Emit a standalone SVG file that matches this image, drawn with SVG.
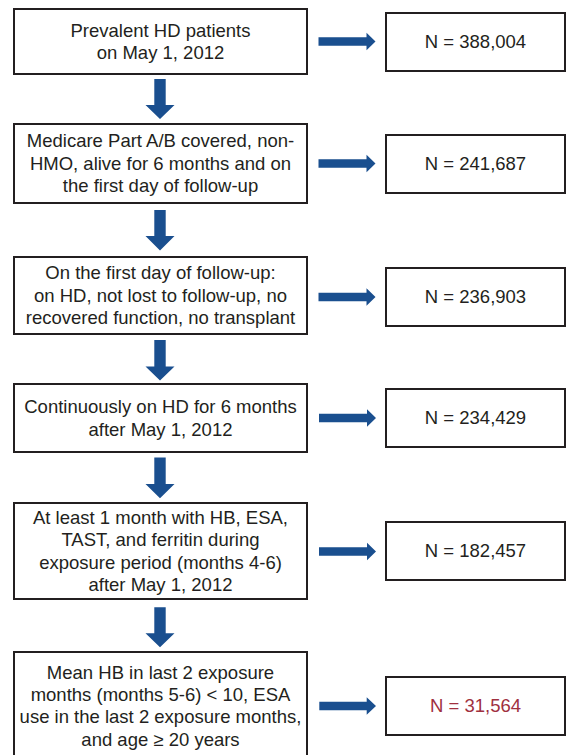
<svg xmlns="http://www.w3.org/2000/svg" width="566" height="755" viewBox="0 0 566 755">
<style>
  .box{fill:#ffffff;stroke:#231f20;stroke-width:2}
  .t{font-family:"Liberation Sans",Arial,Helvetica,sans-serif;font-size:18.5px;fill:#231f20;text-anchor:middle}
  .red{fill:#a0303f}
  .arr{fill:#1a4f8f}
</style>
<rect width="566" height="755" fill="#ffffff"/>
<g id="connectors">
  <polygon class="arr" points="154.3,79 165.7,79 165.7,105 174.5,105 160,119 145.5,105 154.3,105"/>
  <polygon class="arr" points="154.3,210 165.7,210 165.7,236 174.5,236 160,250.5 145.5,236 154.3,236"/>
  <polygon class="arr" points="154.3,340 165.7,340 165.7,366.5 174.5,366.5 160,380.5 145.5,366.5 154.3,366.5"/>
  <polygon class="arr" points="154.3,457.5 165.7,457.5 165.7,484 174.5,484 160,498.3 145.5,484 154.3,484"/>
  <polygon class="arr" points="154.3,607.3 165.7,607.3 165.7,633.3 174.5,633.3 160,647.3 145.5,633.3 154.3,633.3"/>
  <polygon class="arr" points="318.5,37.3 366.5,37.3 366.5,32.7 375.5,41.5 366.5,50.3 366.5,45.7 318.5,45.7"/>
  <polygon class="arr" points="318.5,159.3 366.5,159.3 366.5,154.7 375.5,163.5 366.5,172.3 366.5,167.7 318.5,167.7"/>
  <polygon class="arr" points="318.5,292.8 366.5,292.8 366.5,288.2 375.5,297 366.5,305.8 366.5,301.2 318.5,301.2"/>
  <polygon class="arr" points="319,413.8 367,413.8 367,409.2 376,418 367,426.8 367,422.2 319,422.2"/>
  <polygon class="arr" points="319,547.3 367,547.3 367,542.7 376,551.5 367,560.3 367,555.7 319,555.7"/>
  <polygon class="arr" points="319.3,701.8 366.7,701.8 366.7,697.2 376,706 366.7,714.8 366.7,710.2 319.3,710.2"/>
</g>
<g id="step1">
  <rect class="box" x="14" y="9" width="293" height="65"/>
  <text class="t" x="160.5" y="36.6">Prevalent HD patients</text>
  <text class="t" x="160.5" y="59">on May 1, 2012</text>
</g>
<g id="n1">
  <rect class="box" x="386" y="13" width="179" height="58"/>
  <text class="t" x="475.5" y="48.3">N = 388,004</text>
</g>
<g id="step2">
  <rect class="box" x="14" y="124" width="293" height="79"/>
  <text class="t" x="160.5" y="147.4">Medicare Part A/B covered, non-</text>
  <text class="t" x="160.5" y="169.8">HMO, alive for 6 months and on</text>
  <text class="t" x="160.5" y="192.2">the first day of follow-up</text>
</g>
<g id="n2">
  <rect class="box" x="386" y="135" width="179" height="58"/>
  <text class="t" x="475.5" y="170.3">N = 241,687</text>
</g>
<g id="step3">
  <rect class="box" x="14" y="257" width="293" height="77"/>
  <text class="t" x="160.5" y="279.4">On the first day of follow-up:</text>
  <text class="t" x="160.5" y="301.8">on HD, not lost to follow-up, no</text>
  <text class="t" x="160.5" y="324.2">recovered function, no transplant</text>
</g>
<g id="n3">
  <rect class="box" x="386" y="268" width="179" height="58"/>
  <text class="t" x="475.5" y="303.3">N = 236,903</text>
</g>
<g id="step4">
  <rect class="box" x="14" y="384" width="293" height="68"/>
  <text class="t" x="160.5" y="413.1">Continuously on HD for 6 months</text>
  <text class="t" x="160.5" y="435.5">after May 1, 2012</text>
</g>
<g id="n4">
  <rect class="box" x="386" y="389" width="179" height="58"/>
  <text class="t" x="475.5" y="424.3">N = 234,429</text>
</g>
<g id="step5">
  <rect class="box" x="14" y="503" width="293" height="96"/>
  <text class="t" x="160.5" y="523.7">At least 1 month with HB, ESA,</text>
  <text class="t" x="160.5" y="546.1">TAST, and ferritin during</text>
  <text class="t" x="160.5" y="568.5">exposure period (months 4-6)</text>
  <text class="t" x="160.5" y="590.9">after May 1, 2012</text>
</g>
<g id="n5">
  <rect class="box" x="386" y="522" width="179" height="58"/>
  <text class="t" x="475.5" y="557.3">N = 182,457</text>
</g>
<g id="step6">
  <rect class="box" x="14" y="652" width="293" height="118"/>
  <text class="t" x="160.5" y="678.6">Mean HB in last 2 exposure</text>
  <text class="t" x="160.5" y="701">months (months 5-6) &lt; 10, ESA</text>
  <text class="t" x="160.5" y="723.4">use in the last 2 exposure months,</text>
  <text class="t" x="160.5" y="745.8">and age ≥ 20 years</text>
</g>
<g id="n6">
  <rect class="box" x="386" y="677" width="179" height="58"/>
  <text class="t red" x="475.5" y="711.8">N = 31,564</text>
</g>
</svg>
